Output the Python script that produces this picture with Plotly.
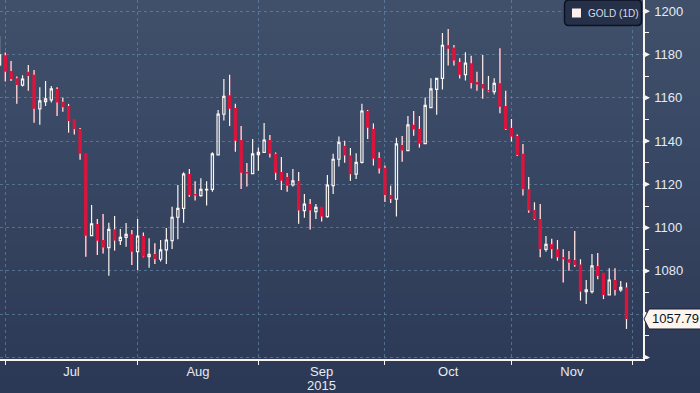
import pandas as pd
import plotly.graph_objects as go

# ---------------- data ----------------
dates = pd.bdate_range("2015-06-30", "2015-11-30")  # weekday sessions

opens = [1175.2, 1179.7, 1172.4, 1169.0, 1165.9, 1172.1, 1170.6, 1154.9, 1158.2, 1159.0,
         1164.1, 1158.2, 1156.2, 1149.8, 1145.6, 1134.1, 1096.3, 1101.7, 1094.3, 1090.8,
         1099.2, 1094.0, 1095.5, 1096.9, 1088.9, 1096.1, 1086.6, 1087.8, 1085.4, 1089.7,
         1094.0, 1104.8, 1108.9, 1124.8, 1115.6, 1114.8, 1117.4, 1117.7, 1133.6, 1152.4,
         1161.2, 1155.3, 1140.5, 1125.7, 1125.0, 1133.7, 1134.8, 1140.5, 1134.1, 1125.7,
         1123.4, 1119.7, 1121.6, 1107.9, 1110.9, 1107.4, 1109.4, 1105.1, 1119.4, 1131.6,
         1137.8, 1133.4, 1124.7, 1130.2, 1153.9, 1145.6, 1132.2, 1127.7, 1115.1, 1113.2,
         1138.2, 1135.6, 1147.5, 1145.6, 1138.8, 1155.5, 1163.9, 1169.0, 1184.3, 1183.2,
         1176.6, 1170.7, 1176.0, 1167.3, 1166.4, 1163.6, 1162.9, 1166.7, 1156.2, 1146.1,
         1142.4, 1134.1, 1117.7, 1108.2, 1104.0, 1090.0, 1092.3, 1090.0, 1086.3, 1085.4,
         1085.1, 1083.0, 1070.4, 1070.4, 1082.3, 1078.9, 1068.9, 1075.8, 1071.2, 1072.4]
highs = [1188.6, 1180.9, 1177.0, 1169.8, 1170.4, 1175.2, 1172.9, 1164.9, 1167.8, 1165.5,
         1164.9, 1160.1, 1157.2, 1149.8, 1146.1, 1134.1, 1110.5, 1104.0, 1106.3, 1102.3,
         1105.4, 1099.4, 1102.2, 1098.9, 1104.0, 1097.8, 1095.1, 1092.8, 1094.3, 1099.8,
         1109.6, 1119.7, 1125.6, 1127.1, 1121.4, 1122.8, 1121.4, 1134.8, 1154.4, 1168.7,
         1170.6, 1157.2, 1147.0, 1129.9, 1141.0, 1137.0, 1148.4, 1142.8, 1134.7, 1132.7,
         1125.3, 1127.1, 1125.7, 1115.6, 1113.2, 1110.9, 1109.4, 1124.3, 1134.1, 1142.1,
         1140.1, 1136.8, 1134.4, 1157.2, 1154.4, 1148.2, 1134.8, 1128.7, 1119.4, 1141.6,
         1142.4, 1151.6, 1153.9, 1151.6, 1160.1, 1169.0, 1169.0, 1190.0, 1191.8, 1184.4,
         1178.3, 1181.0, 1179.4, 1172.0, 1179.8, 1170.1, 1169.0, 1182.9, 1163.3, 1150.2,
         1143.1, 1138.7, 1123.4, 1111.7, 1110.9, 1096.1, 1094.9, 1094.3, 1090.0, 1089.2,
         1098.5, 1085.4, 1075.8, 1087.8, 1088.3, 1078.9, 1081.2, 1081.2, 1075.3, 1074.6]
lows = [1174.4, 1167.5, 1167.8, 1157.3, 1165.2, 1163.3, 1148.5, 1147.5, 1156.2, 1157.8,
        1151.6, 1153.6, 1143.9, 1143.0, 1131.4, 1086.6, 1096.0, 1087.4, 1088.1, 1077.8,
        1089.4, 1092.0, 1091.2, 1082.7, 1080.4, 1086.3, 1081.5, 1083.2, 1084.3, 1083.2,
        1090.1, 1094.6, 1102.3, 1114.3, 1112.5, 1114.3, 1110.2, 1116.6, 1133.3, 1149.5,
        1147.0, 1135.1, 1117.9, 1119.0, 1124.7, 1126.3, 1134.8, 1132.4, 1122.0, 1117.4,
        1116.6, 1119.0, 1101.8, 1104.6, 1099.1, 1104.0, 1102.8, 1104.6, 1115.6, 1128.2,
        1130.0, 1121.6, 1122.5, 1129.7, 1141.0, 1128.7, 1125.0, 1111.9, 1111.4, 1105.1,
        1130.4, 1135.6, 1142.5, 1137.0, 1138.8, 1155.5, 1152.2, 1163.8, 1174.9, 1174.9,
        1168.9, 1168.0, 1164.3, 1163.3, 1159.6, 1162.6, 1161.5, 1152.9, 1145.1, 1139.8,
        1133.1, 1114.8, 1106.9, 1103.5, 1086.3, 1088.9, 1085.7, 1084.7, 1074.6, 1080.1,
        1081.9, 1066.3, 1064.7, 1069.6, 1076.1, 1067.0, 1068.9, 1068.6, 1070.4, 1053.2]
closes = [1179.8, 1172.1, 1168.7, 1165.9, 1168.7, 1170.1, 1154.9, 1158.6, 1159.5, 1164.1,
          1157.8, 1155.6, 1149.3, 1145.5, 1134.2, 1096.3, 1101.7, 1094.0, 1090.8, 1099.2,
          1094.0, 1095.5, 1096.9, 1088.9, 1096.1, 1086.6, 1087.7, 1085.4, 1089.7, 1094.3,
          1104.8, 1108.9, 1124.8, 1115.1, 1114.8, 1117.7, 1117.7, 1134.1, 1152.5, 1160.7,
          1154.9, 1140.2, 1125.4, 1125.0, 1134.1, 1134.8, 1140.5, 1134.1, 1125.4, 1121.7,
          1119.4, 1121.6, 1107.9, 1110.9, 1107.9, 1109.4, 1105.1, 1119.7, 1131.6, 1139.4,
          1133.3, 1124.7, 1130.2, 1153.9, 1146.2, 1131.9, 1127.3, 1115.1, 1113.2, 1138.7,
          1135.6, 1147.5, 1145.3, 1138.8, 1156.5, 1164.1, 1169.0, 1184.3, 1182.7, 1177.2,
          1170.7, 1176.0, 1166.9, 1166.1, 1164.3, 1162.9, 1166.7, 1155.9, 1145.6, 1142.1,
          1133.6, 1117.7, 1107.9, 1103.9, 1090.0, 1092.3, 1090.0, 1086.3, 1085.4, 1083.8,
          1082.7, 1070.4, 1071.2, 1082.3, 1077.7, 1068.9, 1075.8, 1071.2, 1072.4, 1057.79]

y_tick_vals = [1040, 1060, 1080, 1100, 1120, 1140, 1160, 1180, 1200]
y_tick_text = ["", "", "1080", "1100", "1120", "1140", "1160", "1180", "1200"]
month_labels = ["Jul", "Aug", "Sep", "Oct", "Nov"]
year_label = "2015"
series_name = "GOLD (1D)"
last_label = "1057.79"

# ---------------- styling ----------------
RED = "#dc143c"
WHITE = "#f8f4f0"
GRID = "rgba(105,145,175,0.6)"
TXT = "#e6ebf3"
FONT = "Liberation Sans"

x = list(range(len(dates)))

# month boundaries (first session of each month) + the following month start
bounds = [i for i in range(1, len(dates)) if dates[i].month != dates[i - 1].month]
bounds.append(len(dates))
mids = [(a + b) / 2 for a, b in zip(bounds[:-1], bounds[1:])]

# white wicks for the red (down) candles, drawn outside the body only
wx, wy = [], []
for i in x:
    if closes[i] < opens[i]:
        wx += [i, i, None, i, i, None]
        wy += [highs[i], opens[i], None, closes[i], lows[i], None]

fig = go.Figure()
fig.add_trace(go.Candlestick(
    x=x, open=opens, high=highs, low=lows, close=closes,
    name=series_name, whiskerwidth=0, showlegend=False,
    increasing=dict(line=dict(color=WHITE, width=1.2), fillcolor="rgba(0,0,0,0)"),
    decreasing=dict(line=dict(color=RED, width=1.2), fillcolor=RED),
))
fig.add_trace(go.Scatter(x=wx, y=wy, mode="lines", line=dict(color=WHITE, width=1.2),
                         hoverinfo="skip", showlegend=False))

shapes = []
# vertical gradient background
top = (64, 80, 107)
bot = (44, 57, 86)
n = 24
y_top, y_bot = 1.0, -34 / 359
for k in range(n):
    t = k / (n - 1)
    c = tuple(round(top[j] + (bot[j] - top[j]) * t) for j in range(3))
    y0 = y_top - (y_top - y_bot) * k / n
    y1 = y_top - (y_top - y_bot) * (k + 1) / n
    shapes.append(dict(type="rect", xref="paper", yref="paper", x0=-0.02, x1=1.12,
                       y0=y1 - 0.002, y1=y0 + 0.002, fillcolor="rgb(%d,%d,%d)" % c,
                       line=dict(width=0), layer="below"))

# arrow tick marks on the price axis
for v in y_tick_vals:
    shapes.append(dict(type="path", xref="paper", yref="y", xsizemode="pixel", ysizemode="pixel",
                       xanchor=1, yanchor=v, path="M 0,3.5 L 7,0 L 0,-3.5 Z",
                       fillcolor=WHITE, line=dict(width=0)))

# legend box (rounded)
shapes.append(dict(type="path", xref="paper", yref="paper", xsizemode="pixel", ysizemode="pixel",
                   xanchor=1, yanchor=1,
                   path="M -74,0 L -6,0 Q -1.5,0 -1.5,-4.5 L -1.5,-21 Q -1.5,-25.5 -6,-25.5 "
                        "L -74,-25.5 Q -78.5,-25.5 -78.5,-21 L -78.5,-4.5 Q -78.5,0 -74,0 Z",
                   fillcolor="#263149", line=dict(color="#0b1120", width=1.5)))
shapes.append(dict(type="rect", xref="paper", yref="paper", xsizemode="pixel", ysizemode="pixel",
                   xanchor=1, yanchor=1, x0=-71, x1=-62, y0=-8.5, y1=-17.5,
                   fillcolor="#fdf0ec", line=dict(width=0)))

# last price flag
shapes.append(dict(type="path", xref="paper", yref="y", xsizemode="pixel", ysizemode="pixel",
                   xanchor=1, yanchor=closes[-1],
                   path="M 1,0 L 6,10 L 58,10 L 58,-10 L 6,-10 Z",
                   fillcolor="#fdf4ee", line=dict(color="#1b2233", width=1)))

annotations = [
    dict(xref="paper", yref="paper", x=1, y=1, xshift=-57, yshift=-13,
         xanchor="left", yanchor="middle", text=series_name, showarrow=False,
         font=dict(family=FONT, size=10, color="#d5dcea")),
    dict(xref="paper", yref="y", x=1, y=closes[-1], xshift=32, xanchor="center",
         yanchor="middle", text=last_label, showarrow=False,
         font=dict(family=FONT, size=13, color="#0d1424")),
    dict(xref="x", yref="paper", x=mids[2], y=0, yshift=-26, xanchor="center",
         yanchor="middle", text=year_label, showarrow=False,
         font=dict(family=FONT, size=13, color=TXT)),
]

fig.update_layout(
    width=700, height=393,
    margin=dict(l=0, r=57, t=0, b=34, autoexpand=False),
    paper_bgcolor="rgb(46,60,89)",
    plot_bgcolor="rgba(0,0,0,0)",
    boxgap=0.45,
    showlegend=False,
    shapes=shapes,
    annotations=annotations,
    font=dict(family=FONT, size=13, color=TXT),
    xaxis=dict(
        range=[0.078, 111.87], rangeslider=dict(visible=False), automargin=False,
        tickmode="array", tickvals=mids, ticktext=month_labels, ticks="",
        showgrid=False, zeroline=False,
        showline=True, linecolor=WHITE, linewidth=1.5,
        tickfont=dict(family=FONT, size=13, color=TXT),
        minor=dict(tickmode="array", tickvals=bounds, ticks="outside", ticklen=4,
                   tickcolor=WHITE, tickwidth=1, showgrid=True, gridcolor=GRID,
                   griddash="dot", gridwidth=1),
    ),
    yaxis=dict(
        side="right", range=[1039.3, 1205.2], automargin=False,
        tickmode="array", tickvals=y_tick_vals, ticktext=y_tick_text,
        ticks="outside", ticklen=7, tickcolor="rgba(0,0,0,0)",
        showgrid=True, gridcolor=GRID, griddash="dot", gridwidth=1,
        zeroline=False, showline=True, linecolor=WHITE, linewidth=1.5,
        tickfont=dict(family=FONT, size=13, color=TXT),
        minor=dict(dtick=10, tick0=1040, ticks="outside", ticklen=4,
                   tickcolor=WHITE, tickwidth=1, showgrid=False),
    ),
)

fig.write_html("out.html", config={"displayModeBar": False},
               post_script="document.body.style.margin='0';document.body.style.overflow='hidden';")
